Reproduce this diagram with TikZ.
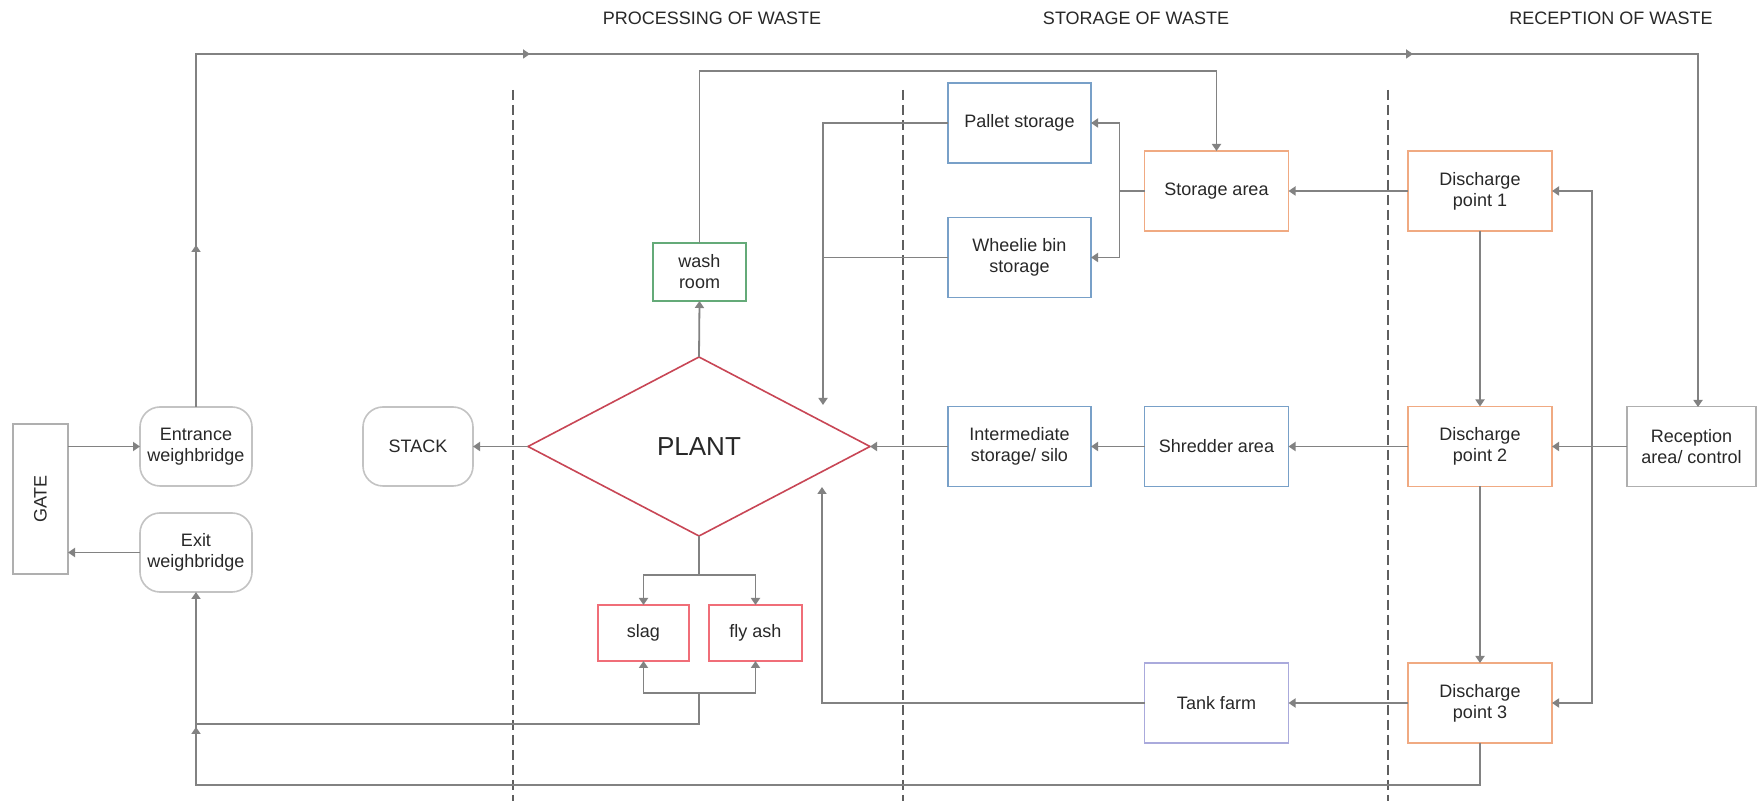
\documentclass[tikz,border=0pt]{standalone}
\usepackage{fontspec}
\setmainfont{Liberation Sans}
\usepackage{graphicx}
\usetikzlibrary{arrows.meta,shapes.geometric,decorations.markings,calc}
\definecolor{orangeb}{RGB}{240,170,130}
\definecolor{blueb}{RGB}{120,160,200}
\definecolor{tankb}{RGB}{170,170,220}
\definecolor{greenb}{RGB}{100,170,120}
\definecolor{redb}{RGB}{240,110,120}
\definecolor{plantred}{RGB}{200,70,85}
\definecolor{roundg}{RGB}{195,195,195}
\definecolor{gateg}{RGB}{175,175,175}
\definecolor{lineg}{RGB}{130,130,130}
\definecolor{dashg}{RGB}{95,95,95}
\definecolor{textc}{RGB}{40,40,40}
\tikzset{
  txt/.style={font=\fontsize{9}{10.5}\selectfont, text=textc, align=center},
  sqbox/.style={txt, draw=#1, line width=0.8pt, rectangle, inner sep=0pt, outer sep=0pt,
                minimum width=72pt, minimum height=40pt},
  rbox/.style={txt, draw=roundg, line width=0.8pt, rounded corners=10pt, inner sep=0pt,
               outer sep=0pt, minimum width=56pt, minimum height=39.5pt},
  conn/.style={draw=lineg, line width=0.9pt},
  arr/.style={conn, -{Triangle[length=3.5pt,width=4.5pt]}},
  lane/.style={draw=dashg, line width=0.8pt, dash pattern=on 5pt off 2.5pt},
  head/.style={font=\fontsize{9}{10.5}\selectfont, text=textc, inner sep=0pt},
}
\begin{document}
\begin{tikzpicture}[x=0.5pt,y=-0.5pt]
\fill[white] (0,0) rectangle (1758,801);
\useasboundingbox (0,0) rectangle (1758,801);

% lanes
\draw[lane] (513,90) -- (513,801);
\draw[lane] (903,90) -- (903,801);
\draw[lane] (1388,90) -- (1388,801);

% headers
\node[head] (h1) at (712,18) {PROCESSING OF WASTE};
\node[head] (h2) at (1136,18) {STORAGE OF WASTE};
\node[head] (h3) at (1611,18) {RECEPTION OF WASTE};

% nodes
\node[sqbox=gateg, minimum width=27.5pt, minimum height=75pt] (gate) at (40.5,499) {\rotatebox{90}{GATE}};
\node[rbox] (ent) at (196,446.5) {Entrance\\weighbridge};
\node[rbox] (exit) at (196,552.5) {Exit\\weighbridge};
\node[rbox, minimum width=55pt] (stack) at (418,446.5) {STACK};
\node[diamond, draw=plantred, line width=0.8pt, inner sep=0pt, outer sep=0pt,
      minimum width=171pt, minimum height=89.5pt, font=\fontsize{13}{15}\selectfont, text=textc]
      (plant) at (699,446.5) {PLANT};
\node[sqbox=greenb, minimum width=46.5pt, minimum height=29pt] (wash) at (699.5,272) {wash\\room};
\node[sqbox=redb, minimum width=45.5pt, minimum height=28pt] (slag) at (643.5,633) {slag};
\node[sqbox=redb, minimum width=46.5pt, minimum height=28pt] (flyash) at (755.5,633) {fly ash};
\node[sqbox=blueb, minimum width=71.5pt] (pallet) at (1019.5,123) {Pallet storage};
\node[sqbox=blueb, minimum width=71.5pt] (wheelie) at (1019.5,257.5) {Wheelie bin\\storage};
\node[sqbox=blueb, minimum width=71.5pt] (inter) at (1019.5,446.5) {Intermediate\\storage/ silo};
\node[sqbox=orangeb] (storage) at (1216.5,191) {Storage area};
\node[sqbox=blueb] (shred) at (1216.5,446.5) {Shredder area};
\node[sqbox=tankb] (tank) at (1216.5,703) {Tank farm};
\node[sqbox=orangeb] (dp1) at (1480,191) {Discharge\\point 1};
\node[sqbox=orangeb] (dp2) at (1480,446.5) {Discharge\\point 2};
\node[sqbox=orangeb] (dp3) at (1480,703) {Discharge\\point 3};
\node[sqbox=gateg, minimum width=64.5pt] (rec) at (1691.5,446.5) {Reception\\area/ control};

% helper coordinates
\coordinate (rtop) at (1698,407);
\coordinate (ttop) at (1698,54);
\coordinate (wtop) at (699.5,71);
\coordinate (pin) at (823,405);
\coordinate (tin) at (822,487);
\coordinate (br) at (699,575);
\coordinate (sj) at (699,693);
\coordinate (sl) at (699,724);
\coordinate (el) at (196,724);
\coordinate (bot) at (1480,785);
\coordinate (rj) at (1592,446.5);

% gate connectors
\draw[arr] (gate.east |- ent.west) -- (ent.west);
\draw[arr] (exit.west) -- (gate.east |- exit.west);

% top loop
\draw[arr, postaction={decorate}, decoration={markings,
    mark=at position 81pt with {\arrow{Triangle[length=3.5pt,width=4.5pt]}},
    mark=at position 343.5pt with {\arrow{Triangle[length=3.5pt,width=4.5pt]}},
    mark=at position 785pt with {\arrow{Triangle[length=3.5pt,width=4.5pt]}}}]
  (ent.north) |- (ttop) -- (rtop);

% bottom loop
\draw[arr, postaction={decorate}, decoration={markings,
    mark=at position 692pt with {\arrow{Triangle[length=3.5pt,width=4.5pt]}}}]
  (dp3.south) -- (bot) -| (exit.south);

% plant connections
\draw[arr] (plant.west) -- (stack.east);
\draw[arr] (plant.north) -- (wash.south);
\draw[arr] (wash.north) -- (wtop) -| (storage.north);
\draw[conn] (plant.south) -- (br);
\draw[arr] (br) -| (slag.north);
\draw[arr] (br) -| (flyash.north);
\draw[conn] (el) -- (sl) -- (sj);
\draw[arr] (sj) -| (slag.south);
\draw[arr] (sj) -| (flyash.south);

% storage to plant
\draw[arr] (pallet.west) -| (pin);
\draw[conn] (wheelie.west) -- (wheelie.west -| pin);
\draw[arr] (tank.west) -| (tin);
\draw[arr] (inter.west) -- (plant.east);
\draw[arr] (shred.west) -- (inter.east);
\draw[arr] (storage.west) -- ++(-25,0) |- (pallet.east);
\draw[arr] (storage.west) -- ++(-25,0) |- (wheelie.east);

% reception side
\draw[arr] (dp1.west) -- (storage.east);
\draw[arr] (dp2.west) -- (shred.east);
\draw[arr] (dp3.west) -- (tank.east);
\draw[arr] (dp1.south) -- (dp2.north);
\draw[arr] (dp2.south) -- (dp3.north);
\draw[arr] (rec.west) -- (dp2.east);
\draw[arr] (rj) |- (dp1.east);
\draw[arr] (rj) |- (dp3.east);
\end{tikzpicture}
\end{document}
